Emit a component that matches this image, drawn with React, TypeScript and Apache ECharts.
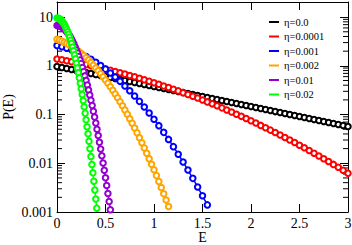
import React, { useEffect, useRef } from "react";
import * as echarts from "echarts";

// Energy sample spacing per series (E starts at 0)
const STEP_BLACK = 0.05;
const STEP_RED = 0.05;
const STEP_BLUE = 0.05;
const STEP_ORANGE = 0.025;
const STEP_PURPLE = 0.0125;
const STEP_GREEN = 0.01;

const SERIES_NAMES = ["η=0.0", "η=0.0001", "η=0.001", "η=0.002", "η=0.01", "η=0.02"];
const SERIES_COLORS = ["#000000", "#ff0000", "#0000ff", "#ffa500", "#9400d3", "#00ff00"];

const P_BLACK = [
  0.966, 0.922, 0.879, 0.839, 0.8, 0.763, 0.728, 0.694, 0.662, 0.632, 0.603, 0.575, 0.548, 0.523, 0.499,
  0.476, 0.454, 0.433, 0.413, 0.394, 0.376, 0.358, 0.342, 0.326, 0.311, 0.297, 0.283, 0.27, 0.258, 0.246,
  0.234, 0.224, 0.213, 0.203, 0.194, 0.185, 0.177, 0.168, 0.161, 0.153, 0.146, 0.139, 0.133, 0.127, 0.121,
  0.115, 0.11, 0.105, 0.1, 0.0956, 0.0912, 0.087, 0.083, 0.0791, 0.0755, 0.072, 0.0687, 0.0655, 0.0625,
  0.0596, 0.0569,
];
const P_RED = [
  1.38, 1.326, 1.272, 1.218, 1.164, 1.111, 1.059, 1.007, 0.956, 0.906, 0.858, 0.81, 0.764, 0.719, 0.676,
  0.634, 0.594, 0.556, 0.519, 0.483, 0.45, 0.418, 0.387, 0.359, 0.331, 0.306, 0.2815, 0.259, 0.2376,
  0.2178, 0.1991, 0.1819, 0.1658, 0.151, 0.1372, 0.1244, 0.1126, 0.1018, 0.0919, 0.0828, 0.0745, 0.0669,
  0.0599, 0.0536, 0.0479, 0.0427, 0.038, 0.0338, 0.03, 0.0266, 0.0235, 0.0208, 0.0183, 0.0161, 0.01414,
  0.0124, 0.01085, 0.00948, 0.00827, 0.00721, 0.00627,
];
const P_BLUE = [
  2.6, 2.462, 2.302, 2.126, 1.938, 1.746, 1.552, 1.363, 1.182, 1.012, 0.856, 0.715, 0.59, 0.48, 0.386,
  0.307, 0.2406, 0.1864, 0.1426, 0.1077, 0.0804, 0.0592, 0.0431, 0.0309, 0.02195, 0.01538, 0.01063,
  0.00727, 0.0049, 0.00327, 0.00215, 0.0014,
];
const P_ORANGE = [
  3.508, 3.367, 3.214, 3.049, 2.876, 2.697, 2.515, 2.331, 2.149, 1.969, 1.794, 1.624, 1.463, 1.31, 1.166,
  1.031, 0.907, 0.794, 0.69, 0.597, 0.513, 0.438, 0.3724, 0.3146, 0.2642, 0.2206, 0.183, 0.1511, 0.1239,
  0.1011, 0.082, 0.0661, 0.053, 0.0422, 0.0335, 0.0264, 0.02064, 0.01607, 0.01244, 0.00958, 0.00733,
  0.00558, 0.00422, 0.00317, 0.00237, 0.00176, 0.0013,
];
const P_PURPLE = [
  6.699, 6.668, 6.579, 6.432, 6.234, 5.987, 5.698, 5.374, 5.023, 4.654, 4.272, 3.888, 3.506, 3.133, 2.775,
  2.435, 2.118, 1.826, 1.56, 1.321, 1.109, 0.922, 0.76, 0.621, 0.5023, 0.403, 0.3204, 0.2524, 0.1971,
  0.1526, 0.117, 0.0889, 0.067, 0.05, 0.037, 0.0271, 0.0197, 0.0142, 0.01013, 0.00717, 0.00502, 0.00349,
  0.0024, 0.00164, 0.00111,
];
const P_GREEN = [
  9.55, 9.499, 9.348, 9.102, 8.768, 8.356, 7.88, 7.351, 6.784, 6.196, 5.598, 5.004, 4.425, 3.871, 3.352,
  2.871, 2.433, 2.039, 1.692, 1.388, 1.127, 0.906, 0.72, 0.566, 0.44, 0.339, 0.258, 0.1944, 0.1449, 0.1069,
  0.078, 0.0563, 0.0402, 0.0284, 0.01987, 0.01374, 0.0094, 0.00637, 0.00426, 0.00283, 0.00185, 0.0012,
];

const X_TICK_LABELS = ["0", "0.5", "1", "1.5", "2", "2.5", "3"];
const Y_TICK_VALUES = [0.001, 0.01, 0.1, 1, 10];
const Y_TICK_LABELS = ["0.001", "0.01", "0.1", "1", "10"];
const MINOR_MANTISSAS = [2, 3, 4, 5, 6, 7, 8, 9];
const MINOR_DECADES = [0.001, 0.01, 0.1, 1];

const FONT = "'Liberation Serif', 'DejaVu Serif', serif";

function toPairs(values: number[], step: number) {
  return values.map((p, i) => [i * step, Math.log10(p)]);
}

export default function App() {
  const ref = useRef<HTMLDivElement>(null);

  useEffect(() => {
    if (!ref.current) return;
    const chart = echarts.init(ref.current, undefined, { renderer: "svg" });

    const seriesData = [
      toPairs(P_BLACK, STEP_BLACK),
      toPairs(P_RED, STEP_RED),
      toPairs(P_BLUE, STEP_BLUE),
      toPairs(P_ORANGE, STEP_ORANGE),
      toPairs(P_PURPLE, STEP_PURPLE),
      toPairs(P_GREEN, STEP_GREEN),
    ];

    const minorTicks: number[] = [];
    MINOR_DECADES.forEach((d) => MINOR_MANTISSAS.forEach((m) => minorTicks.push(Math.log10(m * d))));

    const yLabel = (v: number) => {
      const i = Y_TICK_VALUES.findIndex((t) => Math.abs(Math.log10(t) - v) < 1e-6);
      return i >= 0 ? Y_TICK_LABELS[i] : "";
    };
    const xLabel = (v: number) => {
      const i = Math.round(v / 0.5);
      return Math.abs(i * 0.5 - v) < 1e-6 && X_TICK_LABELS[i] !== undefined ? X_TICK_LABELS[i] : "";
    };

    const axisLine = { show: true, onZero: false, lineStyle: { color: "#000", width: 1 } };
    const tick = { show: true, inside: true, length: 8, lineStyle: { color: "#000", width: 1 } };

    const option: any = {
      animation: false,
      backgroundColor: "#fff",
      grid: { left: 57, right: 4, top: 2, bottom: 33, containLabel: false, outerBoundsMode: "none" },
      legend: {
        orient: "vertical",
        left: 269,
        top: 16,
        padding: 0,
        itemWidth: 10,
        itemHeight: 2,
        itemGap: 2.5,
        icon: "rect",
        selectedMode: false,
        data: SERIES_NAMES.map((n, i) => ({ name: n, itemStyle: { color: SERIES_COLORS[i], borderWidth: 0 } })),
        textStyle: { fontFamily: FONT, fontSize: 10.5, color: "#000", lineHeight: 12 },
      },
      xAxis: [
        {
          type: "value",
          min: 0,
          max: 3,
          interval: 0.5,
          position: "bottom",
          axisLine,
          axisTick: tick,
          splitLine: { show: false },
          axisLabel: { formatter: xLabel, fontFamily: FONT, fontSize: 14, color: "#000", margin: 4, lineHeight: 14 },
          name: "E",
          nameLocation: "middle",
          nameGap: 18,
          nameMoveOverlap: false,
          nameTextStyle: { fontFamily: FONT, fontSize: 14, color: "#000", lineHeight: 14 },
        },
        {
          type: "value",
          min: 0,
          max: 3,
          interval: 0.5,
          position: "top",
          axisLine,
          axisTick: tick,
          splitLine: { show: false },
          axisLabel: { show: false },
        },
      ],
      yAxis: [
        {
          type: "value",
          min: -3,
          max: 1.31,
          interval: 1,
          position: "left",
          axisLine,
          axisTick: tick,
          splitLine: { show: false },
          axisLabel: {
            formatter: yLabel,
            showMaxLabel: false,
            fontFamily: FONT,
            fontSize: 14,
            color: "#000",
            margin: 4,
          },
          name: "P(E)",
          nameLocation: "middle",
          nameGap: 42,
          nameMoveOverlap: false,
          nameTextStyle: { fontFamily: FONT, fontSize: 14, color: "#000", lineHeight: 14 },
        },
        {
          type: "value",
          min: -3,
          max: 1.31,
          interval: 1,
          position: "right",
          axisLine,
          axisTick: tick,
          splitLine: { show: false },
          axisLabel: { show: false },
        },
      ],
      series: [
        {
          type: "custom",
          name: "minorTicks",
          silent: true,
          data: minorTicks.map((v) => [0, v]),
          renderItem: (params: any, api: any) => {
            const p = api.coord([0, api.value(1)]);
            const cs = params.coordSys;
            return {
              type: "group",
              children: [
                { type: "line", shape: { x1: cs.x, y1: p[1], x2: cs.x + 5, y2: p[1] }, style: { stroke: "#000", lineWidth: 1 } },
                {
                  type: "line",
                  shape: { x1: cs.x + cs.width - 5, y1: p[1], x2: cs.x + cs.width, y2: p[1] },
                  style: { stroke: "#000", lineWidth: 1 },
                },
              ],
            };
          },
        },
        ...SERIES_NAMES.map((name, i) => ({
          type: "line",
          name,
          data: seriesData[i],
          symbol: "emptyCircle",
          symbolSize: 5.5,
          showAllSymbol: true,
          color: SERIES_COLORS[i],
          lineStyle: { color: SERIES_COLORS[i], width: 1.5 },
          itemStyle: { color: SERIES_COLORS[i], borderColor: SERIES_COLORS[i], borderWidth: 1.2 },
          z: 3 + i,
        })),
      ],
    };

    chart.setOption(option);
    return () => chart.dispose();
  }, []);

  return <div ref={ref} style={{ width: 352, height: 245, position: "absolute", left: 0, top: 0 }} />;
}
